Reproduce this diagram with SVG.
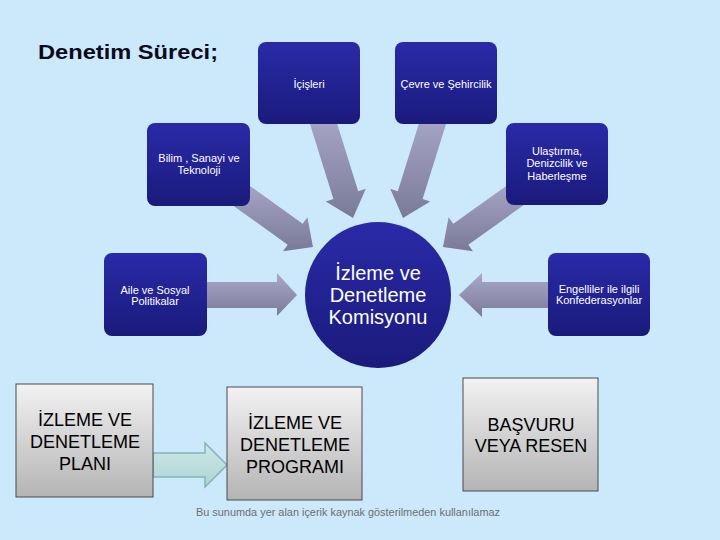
<svg xmlns="http://www.w3.org/2000/svg" width="720" height="540" viewBox="0 0 720 540">
<defs>
<linearGradient id="gBlue" x1="0" y1="0" x2="0" y2="1"><stop offset="0" stop-color="#2a2aa8"/><stop offset="1" stop-color="#1a1a7c"/></linearGradient>
<linearGradient id="gArrow" x1="0" y1="0" x2="0" y2="1"><stop offset="0" stop-color="#aaa8ca"/><stop offset="1" stop-color="#7a7a98"/></linearGradient>
<linearGradient id="gGrey" x1="0" y1="0" x2="0" y2="1"><stop offset="0" stop-color="#f2f2f2"/><stop offset="1" stop-color="#b4b4b4"/></linearGradient>
<linearGradient id="gTeal" x1="0" y1="0" x2="0" y2="1"><stop offset="0" stop-color="#cde8e8"/><stop offset="1" stop-color="#aed4d4"/></linearGradient>
</defs>
<style>
.bbox{fill:url(#gBlue);}
.gbox{fill:url(#gGrey);stroke:#4a4a4a;stroke-width:1;}
.arr{fill:url(#gArrow);}
.wt{font-family:"Liberation Sans",Arial,sans-serif;font-size:11px;fill:#ffffff;text-anchor:middle;}
.ct{font-family:"Liberation Sans",Arial,sans-serif;font-size:20px;fill:#ffffff;text-anchor:middle;}
.gt{font-family:"Liberation Sans",Arial,sans-serif;font-size:18px;fill:#000000;text-anchor:middle;}
</style>
<rect x="0" y="0" width="720" height="540" fill="#cce9fb"/>
<text x="38" y="59" font-family="'Liberation Sans',Arial,sans-serif" font-size="20" font-weight="bold" fill="#0a0a1a" textLength="180" lengthAdjust="spacingAndGlyphs">Denetim Süreci;</text>
<g id="connectors">
<polygon class="arr" points="308.4,118.9 333.2,111.1 358.2,191.2 365.8,188.8 353,218 325.8,201.4 333.4,199.0"/>
<polygon class="arr" points="447.6,118.9 422.8,111.1 397.8,191.2 390.2,188.8 403,218 430.2,201.4 422.6,199.0"/>
<polygon class="arr" points="224.5,199.5 239.5,178.5 302.7,223.7 307.4,217.2 313,247 283.0,251.2 287.7,244.7"/>
<polygon class="arr" points="531.5,199.5 516.5,178.5 453.3,223.7 448.6,217.2 443,247 473.0,251.2 468.3,244.7"/>
<polygon class="arr" points="200,282 277,282 277,273 297,295 277,316 277,308 200,308"/>
<polygon class="arr" points="556,282 482,282 482,273 459,295 482,317 482,308 556,308"/>
<polygon points="153,453 205,453 205,443 227,465 205,487 205,477 153,477" fill="url(#gTeal)" stroke="#84b4b4" stroke-width="1.5"/>
</g>
<g id="icisleri"><rect class="bbox" x="258" y="42" width="102" height="82" rx="8"/><text class="wt" x="309" y="88">İçişleri</text></g>
<g id="cevre"><rect class="bbox" x="395" y="42" width="102" height="82" rx="8"/><text class="wt" x="446" y="88">Çevre ve Şehircilik</text></g>
<g id="bilim"><rect class="bbox" x="147" y="123" width="103" height="83" rx="8"/><text class="wt" x="199" y="162">Bilim , Sanayi ve</text><text class="wt" x="199" y="174">Teknoloji</text></g>
<g id="ulastirma"><rect class="bbox" x="506" y="123" width="102" height="82" rx="8"/><text class="wt" x="557" y="155">Ulaştırma,</text><text class="wt" x="557" y="167">Denizcilik ve</text><text class="wt" x="557" y="180">Haberleşme</text></g>
<g id="aile"><rect class="bbox" x="104" y="253" width="103" height="83" rx="8"/><text class="wt" x="155" y="294">Aile ve Sosyal</text><text class="wt" x="155" y="305">Politikalar</text></g>
<g id="engelliler"><rect class="bbox" x="548" y="253" width="102" height="83" rx="8"/><text class="wt" x="599" y="293">Engelliler ile ilgili</text><text class="wt" x="599" y="304">Konfederasyonlar</text></g>
<g id="komisyon"><circle cx="378" cy="295" r="73" fill="url(#gBlue)"/><text class="ct" x="378" y="280">İzleme ve</text><text class="ct" x="378" y="302">Denetleme</text><text class="ct" x="378" y="324">Komisyonu</text></g>
<g id="plan"><rect class="gbox" x="16" y="384" width="137" height="113"/><text class="gt" x="85" y="426">İZLEME VE</text><text class="gt" x="85" y="448">DENETLEME</text><text class="gt" x="85" y="470">PLANI</text></g>
<g id="program"><rect class="gbox" x="227" y="387" width="135" height="113"/><text class="gt" x="295" y="429">İZLEME VE</text><text class="gt" x="295" y="451">DENETLEME</text><text class="gt" x="295" y="473">PROGRAMI</text></g>
<g id="basvuru"><rect class="gbox" x="463" y="378" width="135" height="113"/><text class="gt" x="531" y="431">BAŞVURU</text><text class="gt" x="531" y="452">VEYA RESEN</text></g>
<text x="196" y="516" font-family="'Liberation Sans',Arial,sans-serif" font-size="11" fill="#6e6e6e" textLength="304" lengthAdjust="spacingAndGlyphs">Bu sunumda yer alan içerik kaynak gösterilmeden kullanılamaz</text>
</svg>
